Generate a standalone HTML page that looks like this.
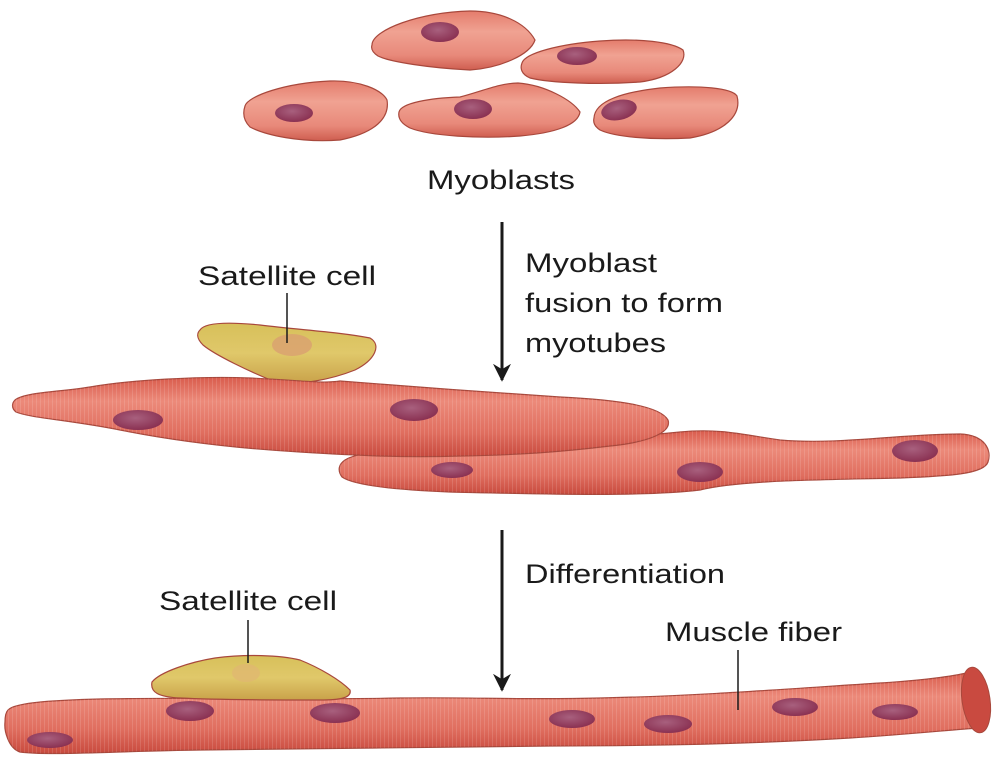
<!DOCTYPE html>
<html><head><meta charset="utf-8"><style>
html,body{margin:0;padding:0;background:#fff}
svg{display:block}
text{font-family:"Liberation Sans",Arial,sans-serif;fill:#1a1a1a}
</style></head><body>
<svg width="1000" height="767" viewBox="0 0 1000 767" xmlns="http://www.w3.org/2000/svg">
<defs>
<linearGradient id="mb" x1="0" y1="0" x2="0" y2="1">
<stop offset="0" stop-color="#e47c6c"/><stop offset="0.35" stop-color="#f0a292"/><stop offset="0.75" stop-color="#e8897a"/><stop offset="1" stop-color="#cf5e50"/>
</linearGradient>
<linearGradient id="mt" x1="0" y1="0" x2="0" y2="1">
<stop offset="0" stop-color="#d95c4d"/><stop offset="0.3" stop-color="#ec8a7a"/><stop offset="0.7" stop-color="#e06e5f"/><stop offset="1" stop-color="#c84a3e"/>
</linearGradient>
<linearGradient id="sat" x1="0" y1="0" x2="0" y2="1">
<stop offset="0" stop-color="#d7c05a"/><stop offset="0.5" stop-color="#e0c86a"/><stop offset="1" stop-color="#c9a24a"/>
</linearGradient>
<radialGradient id="nuc" cx="0.45" cy="0.4" r="0.6">
<stop offset="0" stop-color="#a8607e"/><stop offset="1" stop-color="#8a3152"/>
</radialGradient>
<pattern id="str" width="4" height="10" patternUnits="userSpaceOnUse">
<rect width="1" height="10" fill="#ffffff" opacity="0.12"/>
</pattern>
<marker id="ah" viewBox="0 0 10 10" refX="9" refY="5" markerWidth="6" markerHeight="6" orient="auto">
<path d="M0,0 L10,5 L0,10 L3,5 Z" fill="#1a1a1a"/>
</marker>
</defs>

<!-- Myoblasts -->
<g stroke="#a8483c" stroke-width="1.2" fill="url(#mb)">
<path d="M372,45 C372,30 420,12 470,11 C500,11 525,22 535,40 C530,55 500,68 470,70 C430,68 390,62 378,56 C372,52 371,48 372,45 Z"/>
<path d="M522,63 C525,53 560,44 600,41 C640,38 672,42 683,50 C688,62 672,78 640,82 C600,85 550,83 530,78 C521,74 520,68 522,63 Z"/>
<path d="M245,106 C248,96 285,83 330,81 C360,80 382,90 387,100 C390,118 375,133 340,140 C300,143 265,135 250,127 C243,120 243,112 245,106 Z"/>
<path d="M399,112 C401,103 430,98 460,97 C480,92 500,83 518,83 C545,85 572,100 580,112 C578,125 555,133 520,136 C480,139 430,136 410,128 C400,123 398,117 399,112 Z"/>
<path d="M594,118 C595,100 625,92 660,88 C700,85 732,88 737,96 C742,115 725,132 690,138 C650,140 615,137 600,130 C594,126 593,122 594,118 Z"/>
</g>
<g fill="url(#nuc)">
<ellipse cx="440" cy="32" rx="19" ry="10"/>
<ellipse cx="577" cy="56" rx="20" ry="9"/>
<ellipse cx="294" cy="113" rx="19" ry="9"/>
<ellipse cx="473" cy="109" rx="19" ry="10"/>
<ellipse cx="619" cy="110" rx="18" ry="10" transform="rotate(-12 619 110)"/>
</g>
<text x="501" y="189" font-size="27" text-anchor="middle" textLength="148" lengthAdjust="spacingAndGlyphs">Myoblasts</text>

<!-- Arrow 1 -->
<line x1="502" y1="222" x2="502" y2="380" stroke="#1a1a1a" stroke-width="3" marker-end="url(#ah)"/>
<text x="525" y="272" font-size="27" textLength="132" lengthAdjust="spacingAndGlyphs">Myoblast</text>
<text x="525" y="312" font-size="27" textLength="198" lengthAdjust="spacingAndGlyphs">fusion to form</text>
<text x="525" y="352" font-size="27" textLength="141" lengthAdjust="spacingAndGlyphs">myotubes</text>

<!-- Satellite cell 1 -->
<text x="287" y="285" font-size="27" text-anchor="middle" textLength="178" lengthAdjust="spacingAndGlyphs">Satellite cell</text>
<path d="M200,330 C205,322 230,322 260,325 C300,330 340,332 370,338 C382,345 375,360 355,370 C330,380 300,385 278,383 C250,372 215,355 203,345 C196,338 197,333 200,330 Z" fill="url(#sat)" stroke="#a8483c" stroke-width="1.2"/>
<ellipse cx="292" cy="345" rx="20" ry="11" fill="#d9a070" opacity="0.8"/>
<line x1="287" y1="293" x2="287" y2="343" stroke="#1a1a1a" stroke-width="1.5"/>

<!-- Myotube 2 (behind) -->
<path d="M345,460 C360,450 420,446 480,444 C560,440 620,438 680,432 C720,428 745,435 780,440 C840,445 900,434 960,434 C985,435 992,450 988,462 C984,474 950,476 900,478 C820,480 740,480 700,490 C640,497 540,494 450,492 C400,490 355,486 342,477 C337,470 339,464 345,460 Z" fill="url(#mt)" stroke="#a8483c" stroke-width="1.2"/>
<path d="M345,460 C360,450 420,446 480,444 C560,440 620,438 680,432 C720,428 745,435 780,440 C840,445 900,434 960,434 C985,435 992,450 988,462 C984,474 950,476 900,478 C820,480 740,480 700,490 C640,497 540,494 450,492 C400,490 355,486 342,477 C337,470 339,464 345,460 Z" fill="url(#str)"/>
<!-- Myotube 1 -->
<path d="M15,400 C25,392 60,392 90,387 C130,380 200,376 250,378 C300,380 320,384 340,381 C400,386 500,393 560,397 C620,400 660,406 668,420 C672,432 650,442 610,446 C560,452 520,455 460,456 C400,458 350,455 300,452 C230,448 170,440 120,430 C70,420 30,418 16,412 C11,408 12,403 15,400 Z" fill="url(#mt)" stroke="#a8483c" stroke-width="1.2"/>
<path d="M15,400 C25,392 60,392 90,387 C130,380 200,376 250,378 C300,380 320,384 340,381 C400,386 500,393 560,397 C620,400 660,406 668,420 C672,432 650,442 610,446 C560,452 520,455 460,456 C400,458 350,455 300,452 C230,448 170,440 120,430 C70,420 30,418 16,412 C11,408 12,403 15,400 Z" fill="url(#str)"/>
<g fill="url(#nuc)">
<ellipse cx="138" cy="420" rx="25" ry="10"/>
<ellipse cx="414" cy="410" rx="24" ry="11"/>
<ellipse cx="452" cy="470" rx="21" ry="8"/>
<ellipse cx="700" cy="472" rx="23" ry="10"/>
<ellipse cx="915" cy="451" rx="23" ry="11"/>
</g>

<!-- Arrow 2 -->
<line x1="502" y1="530" x2="502" y2="690" stroke="#1a1a1a" stroke-width="3" marker-end="url(#ah)"/>
<text x="525" y="583" font-size="27" textLength="200" lengthAdjust="spacingAndGlyphs">Differentiation</text>
<text x="248" y="610" font-size="27" text-anchor="middle" textLength="178" lengthAdjust="spacingAndGlyphs">Satellite cell</text>
<text x="665" y="641" font-size="27" textLength="177" lengthAdjust="spacingAndGlyphs">Muscle fiber</text>

<!-- Muscle fiber -->
<path d="M8,710 C15,702 60,700 100,699 C200,697 300,700 400,698 C470,697 520,700 600,698 C700,696 800,688 880,683 C930,680 960,675 970,672 L978,728 C950,730 900,735 850,738 C750,744 650,746 550,746 C450,747 300,749 200,750 C120,751 50,756 20,752 C8,748 4,730 5,722 C5,716 6,712 8,710 Z" fill="url(#mt)" stroke="#a8483c" stroke-width="1.2"/>
<path d="M8,710 C15,702 60,700 100,699 C200,697 300,700 400,698 C470,697 520,700 600,698 C700,696 800,688 880,683 C930,680 960,675 970,672 L978,728 C950,730 900,735 850,738 C750,744 650,746 550,746 C450,747 300,749 200,750 C120,751 50,756 20,752 C8,748 4,730 5,722 C5,716 6,712 8,710 Z" fill="url(#str)"/>
<ellipse cx="976" cy="700" rx="14" ry="33" transform="rotate(-8 976 700)" fill="#c94a40" stroke="#a8483c" stroke-width="1"/>
<!-- Satellite cell 2 -->
<path d="M152,682 C160,672 190,662 215,658 C245,654 280,655 300,660 C320,668 340,680 350,690 C352,698 340,700 320,700 C280,700 220,700 180,698 C158,697 150,692 152,682 Z" fill="url(#sat)" stroke="#a8483c" stroke-width="1.2"/>
<ellipse cx="246" cy="673" rx="14" ry="9" fill="#e0b870" opacity="0.8"/>
<line x1="248" y1="620" x2="248" y2="663" stroke="#1a1a1a" stroke-width="1.5"/>
<line x1="738" y1="650" x2="738" y2="710" stroke="#1a1a1a" stroke-width="1.5"/>
<g fill="url(#nuc)">
<ellipse cx="190" cy="711" rx="24" ry="10"/>
<ellipse cx="335" cy="713" rx="25" ry="10"/>
<ellipse cx="572" cy="719" rx="23" ry="9"/>
<ellipse cx="668" cy="724" rx="24" ry="9"/>
<ellipse cx="795" cy="707" rx="23" ry="9"/>
<ellipse cx="895" cy="712" rx="23" ry="8"/>
<ellipse cx="50" cy="740" rx="23" ry="8"/>
</g>
</svg>
</body></html>
